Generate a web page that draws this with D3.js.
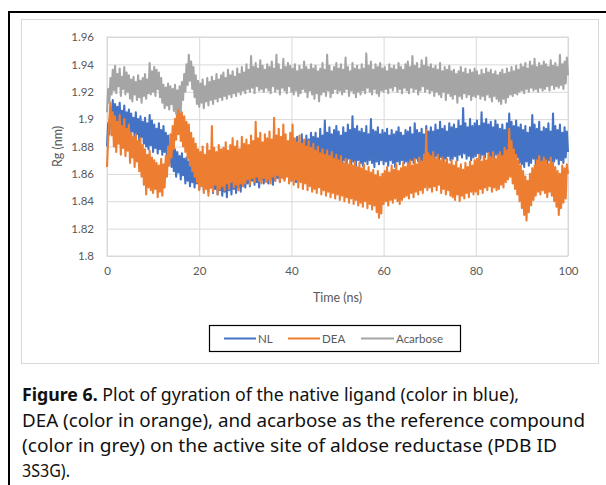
<!DOCTYPE html>
<html>
<head>
<meta charset="utf-8">
<script src="https://cdn.jsdelivr.net/npm/d3@7/dist/d3.min.js"></script>
<style>
  html, body { margin: 0; padding: 0; background: #fff; }
  svg { display: block; }
</style>
</head>
<body>
<svg id="chart" width="606" height="485"></svg>
<script>
// ---------- data ----------
const seriesNames = ["NL", "DEA", "Acarbose"];
const seriesColors = ["#4472C4", "#ED7D31", "#A5A5A5"];
const xTicks = [0, 20, 40, 60, 80, 100];
const yTicks = [1.8, 1.82, 1.84, 1.86, 1.88, 1.9, 1.92, 1.94, 1.96];
const yTickLabels = ["1.8", "1.82", "1.84", "1.86", "1.88", "1.9", "1.92", "1.94", "1.96"];
const sampleStepNs = 0.25; // one value every 0.25 ns, 0..100 ns

const nlValues = [
  1.880, 1.897, 1.889, 1.908, 1.895, 1.914, 1.898, 1.911, 1.893, 1.909, 1.896, 1.912, 1.891, 1.906, 1.894, 1.910, 1.890, 1.905, 1.892, 1.907,
  1.888, 1.904, 1.891, 1.901, 1.886, 1.905, 1.889, 1.900, 1.884, 1.902, 1.887, 1.898, 1.882, 1.901, 1.880, 1.897, 1.878, 1.903, 1.881, 1.899,
  1.876, 1.896, 1.879, 1.893, 1.875, 1.897, 1.878, 1.892, 1.874, 1.895, 1.876, 1.890, 1.872, 1.888, 1.868, 1.884, 1.865, 1.880, 1.862, 1.878,
  1.858, 1.876, 1.861, 1.873, 1.856, 1.875, 1.859, 1.871, 1.853, 1.872, 1.855, 1.869, 1.851, 1.870, 1.854, 1.868, 1.850, 1.871, 1.853, 1.869,
  1.849, 1.868, 1.852, 1.871, 1.848, 1.866, 1.851, 1.869, 1.847, 1.870, 1.850, 1.865, 1.846, 1.868, 1.849, 1.866, 1.845, 1.869, 1.848, 1.867,
  1.844, 1.866, 1.847, 1.869, 1.843, 1.864, 1.848, 1.867, 1.845, 1.870, 1.849, 1.865, 1.846, 1.868, 1.850, 1.866, 1.847, 1.871, 1.851, 1.868,
  1.850, 1.872, 1.853, 1.869, 1.851, 1.874, 1.855, 1.870, 1.852, 1.875, 1.854, 1.871, 1.850, 1.873, 1.856, 1.869, 1.853, 1.876, 1.855, 1.872,
  1.853, 1.878, 1.856, 1.874, 1.852, 1.880, 1.855, 1.875, 1.857, 1.881, 1.854, 1.876, 1.858, 1.879, 1.856, 1.882, 1.859, 1.877, 1.857, 1.883,
  1.855, 1.885, 1.858, 1.880, 1.854, 1.887, 1.859, 1.882, 1.857, 1.889, 1.860, 1.884, 1.858, 1.888, 1.861, 1.885, 1.859, 1.890, 1.862, 1.887,
  1.862, 1.890, 1.865, 1.886, 1.861, 1.893, 1.866, 1.888, 1.864, 1.899, 1.867, 1.890, 1.865, 1.894, 1.868, 1.889, 1.864, 1.892, 1.867, 1.895,
  1.867, 1.891, 1.869, 1.888, 1.866, 1.894, 1.870, 1.890, 1.868, 1.896, 1.871, 1.892, 1.867, 1.902, 1.869, 1.893, 1.866, 1.895, 1.870, 1.891,
  1.868, 1.893, 1.866, 1.890, 1.869, 1.895, 1.867, 1.889, 1.870, 1.900, 1.868, 1.892, 1.865, 1.891, 1.869, 1.894, 1.867, 1.889, 1.870, 1.892,
  1.867, 1.890, 1.869, 1.893, 1.866, 1.888, 1.870, 1.892, 1.868, 1.889, 1.865, 1.891, 1.869, 1.894, 1.867, 1.890, 1.870, 1.888, 1.868, 1.892,
  1.869, 1.891, 1.867, 1.894, 1.870, 1.889, 1.868, 1.897, 1.871, 1.892, 1.869, 1.890, 1.866, 1.893, 1.870, 1.889, 1.868, 1.895, 1.871, 1.891,
  1.870, 1.894, 1.872, 1.891, 1.869, 1.896, 1.873, 1.892, 1.870, 1.898, 1.872, 1.893, 1.869, 1.895, 1.871, 1.891, 1.873, 1.897, 1.870, 1.894,
  1.871, 1.896, 1.873, 1.893, 1.870, 1.899, 1.874, 1.895, 1.872, 1.908, 1.875, 1.897, 1.871, 1.894, 1.873, 1.900, 1.870, 1.895, 1.872, 1.897,
  1.873, 1.899, 1.875, 1.895, 1.871, 1.905, 1.874, 1.897, 1.872, 1.900, 1.876, 1.896, 1.873, 1.898, 1.870, 1.894, 1.872, 1.899, 1.874, 1.896,
  1.869, 1.893, 1.867, 1.896, 1.871, 1.892, 1.868, 1.897, 1.870, 1.904, 1.873, 1.898, 1.871, 1.895, 1.869, 1.899, 1.872, 1.894, 1.868, 1.896,
  1.867, 1.892, 1.865, 1.895, 1.869, 1.890, 1.866, 1.894, 1.868, 1.903, 1.871, 1.896, 1.867, 1.893, 1.870, 1.898, 1.868, 1.891, 1.866, 1.894,
  1.868, 1.893, 1.866, 1.897, 1.870, 1.891, 1.867, 1.904, 1.869, 1.895, 1.871, 1.892, 1.867, 1.896, 1.870, 1.890, 1.868, 1.894, 1.872, 1.891,
  1.876
];

const deaValues = [
  1.865, 1.885, 1.900, 1.912, 1.888, 1.905, 1.880, 1.902, 1.876, 1.898, 1.882, 1.903, 1.874, 1.895, 1.879, 1.900, 1.873, 1.893, 1.877, 1.896,
  1.868, 1.890, 1.872, 1.887, 1.865, 1.889, 1.869, 1.884, 1.862, 1.886, 1.858, 1.881, 1.852, 1.878, 1.845, 1.874, 1.850, 1.877, 1.848, 1.872,
  1.846, 1.870, 1.849, 1.868, 1.843, 1.866, 1.847, 1.871, 1.844, 1.867, 1.850, 1.873, 1.858, 1.880, 1.866, 1.889, 1.872, 1.895, 1.878, 1.900,
  1.885, 1.912, 1.889, 1.908, 1.884, 1.905, 1.880, 1.902, 1.876, 1.898, 1.871, 1.896, 1.866, 1.890, 1.862, 1.886, 1.858, 1.882, 1.854, 1.878,
  1.848, 1.876, 1.851, 1.880, 1.846, 1.874, 1.849, 1.882, 1.844, 1.877, 1.850, 1.895, 1.847, 1.879, 1.852, 1.876, 1.845, 1.881, 1.849, 1.878,
  1.851, 1.879, 1.848, 1.883, 1.853, 1.877, 1.849, 1.881, 1.854, 1.886, 1.850, 1.880, 1.852, 1.884, 1.848, 1.878, 1.853, 1.887, 1.851, 1.882,
  1.853, 1.885, 1.856, 1.881, 1.852, 1.888, 1.857, 1.884, 1.854, 1.898, 1.858, 1.886, 1.855, 1.890, 1.853, 1.883, 1.857, 1.889, 1.854, 1.886,
  1.856, 1.891, 1.853, 1.885, 1.858, 1.901, 1.855, 1.888, 1.859, 1.893, 1.854, 1.887, 1.857, 1.896, 1.855, 1.889, 1.858, 1.884, 1.853, 1.890,
  1.855, 1.896, 1.852, 1.886, 1.856, 1.883, 1.850, 1.888, 1.854, 1.882, 1.849, 1.885, 1.853, 1.880, 1.848, 1.884, 1.851, 1.879, 1.847, 1.882,
  1.849, 1.877, 1.846, 1.880, 1.850, 1.875, 1.845, 1.878, 1.848, 1.874, 1.844, 1.877, 1.847, 1.873, 1.843, 1.876, 1.846, 1.871, 1.842, 1.874,
  1.845, 1.870, 1.841, 1.873, 1.844, 1.868, 1.840, 1.871, 1.843, 1.867, 1.839, 1.870, 1.842, 1.866, 1.838, 1.869, 1.841, 1.865, 1.837, 1.868,
  1.839, 1.864, 1.836, 1.867, 1.840, 1.862, 1.835, 1.865, 1.838, 1.861, 1.834, 1.863, 1.837, 1.859, 1.832, 1.862, 1.828, 1.858, 1.831, 1.860,
  1.838, 1.862, 1.840, 1.865, 1.837, 1.861, 1.841, 1.866, 1.839, 1.863, 1.842, 1.867, 1.840, 1.862, 1.838, 1.864, 1.841, 1.868, 1.843, 1.865,
  1.844, 1.868, 1.842, 1.870, 1.846, 1.866, 1.843, 1.871, 1.847, 1.867, 1.845, 1.872, 1.848, 1.869, 1.846, 1.874, 1.850, 1.892, 1.848, 1.875,
  1.850, 1.873, 1.847, 1.876, 1.851, 1.871, 1.848, 1.874, 1.852, 1.870, 1.846, 1.872, 1.849, 1.869, 1.845, 1.871, 1.848, 1.867, 1.844, 1.870,
  1.843, 1.866, 1.841, 1.869, 1.845, 1.864, 1.840, 1.867, 1.844, 1.863, 1.842, 1.868, 1.846, 1.865, 1.843, 1.869, 1.847, 1.866, 1.845, 1.870,
  1.847, 1.871, 1.845, 1.874, 1.849, 1.869, 1.846, 1.873, 1.850, 1.870, 1.848, 1.875, 1.851, 1.872, 1.847, 1.876, 1.850, 1.871, 1.848, 1.874,
  1.849, 1.876, 1.852, 1.873, 1.850, 1.879, 1.854, 1.877, 1.856, 1.893, 1.858, 1.884, 1.853, 1.878, 1.849, 1.874, 1.845, 1.870, 1.840, 1.866,
  1.835, 1.862, 1.830, 1.858, 1.826, 1.855, 1.832, 1.860, 1.837, 1.864, 1.841, 1.866, 1.844, 1.870, 1.847, 1.873, 1.845, 1.869, 1.848, 1.872,
  1.846, 1.870, 1.843, 1.867, 1.847, 1.872, 1.844, 1.868, 1.840, 1.865, 1.836, 1.862, 1.830, 1.860, 1.835, 1.866, 1.839, 1.864, 1.842, 1.867,
  1.860
];

const acarboseValues = [
  1.905, 1.922, 1.912, 1.930, 1.918, 1.936, 1.921, 1.939, 1.919, 1.933, 1.924, 1.937, 1.917, 1.931, 1.922, 1.938, 1.918, 1.934, 1.920, 1.932,
  1.915, 1.929, 1.913, 1.931, 1.918, 1.927, 1.914, 1.932, 1.916, 1.928, 1.912, 1.930, 1.917, 1.933, 1.915, 1.929, 1.919, 1.941, 1.918, 1.935,
  1.920, 1.938, 1.917, 1.936, 1.922, 1.934, 1.916, 1.930, 1.912, 1.925, 1.908, 1.923, 1.910, 1.926, 1.907, 1.924, 1.911, 1.922, 1.906, 1.925,
  1.904, 1.921, 1.908, 1.924, 1.905, 1.927, 1.914, 1.933, 1.920, 1.940, 1.925, 1.947, 1.928, 1.942, 1.922, 1.938, 1.916, 1.932, 1.911, 1.928,
  1.909, 1.926, 1.912, 1.929, 1.908, 1.924, 1.913, 1.930, 1.910, 1.927, 1.914, 1.931, 1.911, 1.928, 1.915, 1.933, 1.913, 1.929, 1.916, 1.932,
  1.914, 1.934, 1.917, 1.930, 1.915, 1.936, 1.918, 1.932, 1.916, 1.935, 1.919, 1.931, 1.917, 1.937, 1.920, 1.933, 1.918, 1.938, 1.921, 1.934,
  1.919, 1.940, 1.922, 1.936, 1.920, 1.946, 1.923, 1.938, 1.919, 1.941, 1.924, 1.937, 1.921, 1.943, 1.922, 1.939, 1.920, 1.936, 1.923, 1.940,
  1.921, 1.938, 1.919, 1.942, 1.924, 1.937, 1.920, 1.947, 1.922, 1.940, 1.918, 1.936, 1.923, 1.944, 1.921, 1.938, 1.919, 1.941, 1.924, 1.939,
  1.920, 1.937, 1.918, 1.940, 1.921, 1.935, 1.917, 1.939, 1.919, 1.936, 1.922, 1.942, 1.920, 1.938, 1.916, 1.936, 1.921, 1.940, 1.918, 1.937,
  1.915, 1.939, 1.919, 1.935, 1.913, 1.937, 1.918, 1.941, 1.920, 1.936, 1.917, 1.947, 1.921, 1.939, 1.916, 1.935, 1.919, 1.938, 1.922, 1.941,
  1.919, 1.937, 1.921, 1.940, 1.918, 1.936, 1.920, 1.945, 1.922, 1.938, 1.917, 1.935, 1.921, 1.941, 1.919, 1.937, 1.916, 1.939, 1.920, 1.936,
  1.918, 1.940, 1.921, 1.937, 1.919, 1.948, 1.923, 1.939, 1.920, 1.942, 1.918, 1.936, 1.922, 1.940, 1.919, 1.938, 1.917, 1.941, 1.921, 1.937,
  1.920, 1.938, 1.922, 1.935, 1.919, 1.940, 1.923, 1.937, 1.921, 1.939, 1.924, 1.936, 1.920, 1.941, 1.922, 1.938, 1.919, 1.936, 1.923, 1.940,
  1.921, 1.942, 1.919, 1.938, 1.923, 1.946, 1.920, 1.939, 1.922, 1.941, 1.918, 1.937, 1.921, 1.943, 1.924, 1.939, 1.920, 1.945, 1.922, 1.938,
  1.919, 1.940, 1.921, 1.937, 1.917, 1.939, 1.920, 1.936, 1.918, 1.941, 1.916, 1.935, 1.920, 1.938, 1.914, 1.936, 1.919, 1.939, 1.917, 1.935,
  1.915, 1.936, 1.918, 1.933, 1.912, 1.935, 1.917, 1.938, 1.915, 1.934, 1.919, 1.937, 1.916, 1.933, 1.918, 1.936, 1.914, 1.934, 1.917, 1.937,
  1.916, 1.935, 1.918, 1.932, 1.915, 1.936, 1.917, 1.933, 1.914, 1.937, 1.918, 1.934, 1.916, 1.936, 1.913, 1.933, 1.917, 1.935, 1.915, 1.932,
  1.913, 1.934, 1.911, 1.936, 1.915, 1.933, 1.912, 1.937, 1.916, 1.934, 1.918, 1.938, 1.917, 1.935, 1.919, 1.939, 1.918, 1.936, 1.920, 1.940,
  1.921, 1.938, 1.919, 1.941, 1.922, 1.937, 1.920, 1.942, 1.923, 1.939, 1.921, 1.944, 1.922, 1.938, 1.920, 1.941, 1.923, 1.939, 1.921, 1.942,
  1.922, 1.940, 1.924, 1.938, 1.921, 1.943, 1.925, 1.939, 1.922, 1.941, 1.924, 1.938, 1.923, 1.947, 1.925, 1.940, 1.922, 1.942, 1.926, 1.945,
  1.932
];

const captionLines = [
  [{t: "Figure 6.", b: true}, {t: " Plot of gyration of the native ligand (color in blue),", b: false}],
  [{t: "DEA (color in orange), and acarbose as the reference compound", b: false}],
  [{t: "(color in grey) on the active site of aldose reductase (PDB ID", b: false}],
  [{t: "3S3G).", b: false}]
];

// ---------- drawing ----------
const svg = d3.select("#chart");
const chartFont = "Lato, 'Open Sans', sans-serif";
const textGrey = "#595959";
const gridGrey = "#d9d9d9";

// outer frame (black)
svg.append("path")
  .attr("d", "M9,490 L9,12 L610,12")
  .attr("fill", "none").attr("stroke", "#000").attr("stroke-width", 2);

// chart area frame
svg.append("rect")
  .attr("x", 21.5).attr("y", 19.5).attr("width", 577).attr("height", 344)
  .attr("fill", "#fff").attr("stroke", gridGrey).attr("stroke-width", 1);

const plot = {left: 107, right: 568, top: 37, bottom: 256};
const x = d3.scaleLinear().domain([0, 100]).range([plot.left, plot.right]);
const y = d3.scaleLinear().domain([1.8, 1.96]).range([plot.bottom, plot.top]);

// gridlines
const gridY = svg.append("g").attr("transform", `translate(${plot.left},0)`)
  .call(d3.axisLeft(y).tickValues(yTicks).tickSize(-(plot.right - plot.left)).tickFormat(""));
gridY.select(".domain").remove();
gridY.selectAll("line").attr("stroke", gridGrey).attr("stroke-width", 1);

const gridX = svg.append("g").attr("transform", `translate(0,${plot.bottom})`)
  .call(d3.axisBottom(x).tickValues(xTicks).tickSize(-(plot.bottom - plot.top)).tickFormat(""));
gridX.select(".domain").remove();
gridX.selectAll("line").attr("stroke", gridGrey).attr("stroke-width", 1);

// plot border
svg.append("rect")
  .attr("x", plot.left).attr("y", plot.top)
  .attr("width", plot.right - plot.left).attr("height", plot.bottom - plot.top)
  .attr("fill", "none").attr("stroke", gridGrey).attr("stroke-width", 1);

// lines
const allSeries = [nlValues, deaValues, acarboseValues];
const line = d3.line()
  .x((d, i) => x(i * sampleStepNs))
  .y(d => y(d));
allSeries.forEach((vals, k) => {
  svg.append("path")
    .datum(vals)
    .attr("d", line)
    .attr("fill", "none")
    .attr("stroke", seriesColors[k])
    .attr("stroke-width", 2.1)
    .attr("stroke-linejoin", "round");
});

// axes labels
const yAxis = svg.append("g").attr("transform", `translate(${plot.left - 13},0)`)
  .call(d3.axisLeft(y).tickValues(yTicks).tickSize(0).tickPadding(0)
    .tickFormat((d, i) => yTickLabels[i]));
yAxis.select(".domain").remove();
yAxis.selectAll("text").attr("font-family", chartFont).attr("font-size", 11.5).attr("fill", textGrey);

const xAxis = svg.append("g").attr("transform", `translate(0,${plot.bottom + 11})`)
  .call(d3.axisBottom(x).tickValues(xTicks).tickSize(0).tickPadding(0));
xAxis.select(".domain").remove();
xAxis.selectAll("text").attr("font-family", chartFont).attr("font-size", 11.5).attr("fill", textGrey);

svg.append("text")
  .attr("x", (plot.left + plot.right) / 2).attr("y", 302)
  .attr("text-anchor", "middle")
  .attr("font-family", chartFont).attr("font-size", 12.5).attr("fill", textGrey)
  .text("Time (ns)");

svg.append("text")
  .attr("transform", `translate(62,${(plot.top + plot.bottom) / 2}) rotate(-90)`)
  .attr("text-anchor", "middle")
  .attr("font-family", chartFont).attr("font-size", 12.5).attr("fill", textGrey)
  .text("Rg (nm)");

// legend
const legend = svg.append("g");
legend.append("rect")
  .attr("x", 209.5).attr("y", 325.5).attr("width", 251).attr("height", 26)
  .attr("fill", "#fff").attr("stroke", "#000").attr("stroke-width", 1.2);
const legendItems = [
  {x0: 224, x1: 256, tx: 258},
  {x0: 288, x1: 320, tx: 322},
  {x0: 361, x1: 394, tx: 396}
];
legendItems.forEach((it, k) => {
  legend.append("line")
    .attr("x1", it.x0).attr("x2", it.x1).attr("y1", 338.5).attr("y2", 338.5)
    .attr("stroke", seriesColors[k]).attr("stroke-width", 2);
  legend.append("text")
    .attr("x", it.tx).attr("y", 342.5)
    .attr("font-family", chartFont).attr("font-size", 11.5).attr("fill", textGrey)
    .text(seriesNames[k]);
});

// caption
const captionFont = "'Noto Sans', 'Open Sans', sans-serif";
const captionBaselines = [401, 426.5, 452, 477];
const captionWidths = [497, 563, 535, 48];
captionLines.forEach((parts, i) => {
  const t = svg.append("text")
    .attr("x", 22).attr("y", captionBaselines[i])
    .attr("font-family", captionFont).attr("font-size", 17.5).attr("fill", "#111")
    .attr("textLength", captionWidths[i]).attr("lengthAdjust", "spacingAndGlyphs");
  parts.forEach(p => {
    t.append("tspan").attr("font-weight", p.b ? "bold" : "normal").text(p.t);
  });
});
</script>
</body>
</html>
